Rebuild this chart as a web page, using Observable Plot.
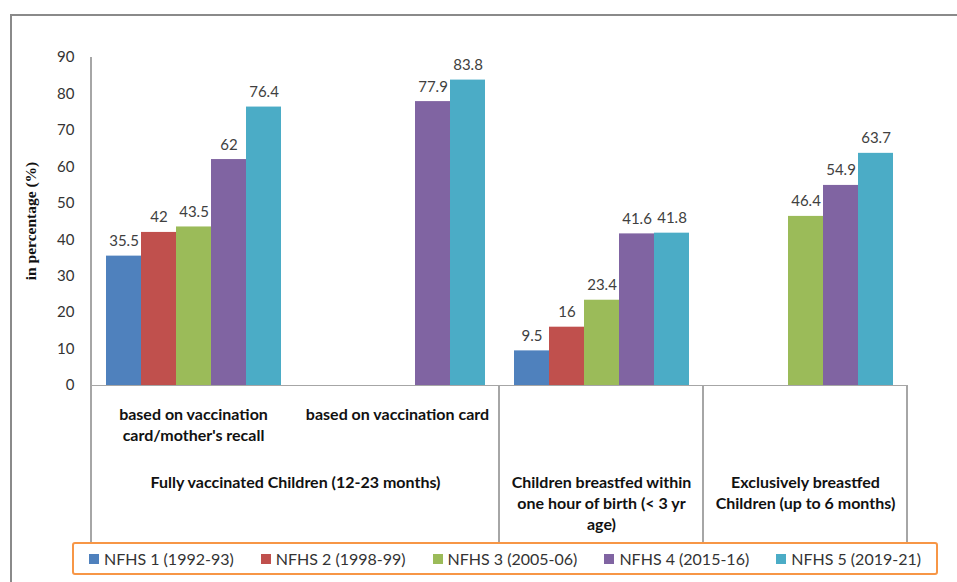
<!DOCTYPE html>
<html><head><meta charset="utf-8">
<script src="https://cdn.jsdelivr.net/npm/d3@7"></script>
<script src="https://cdn.jsdelivr.net/npm/@observablehq/plot@0.6"></script>
<style>
body{margin:0;background:#fff;width:957px;height:582px;overflow:hidden;position:relative;font-family:Lato,"Open Sans",sans-serif}
#frame{position:absolute;left:10px;top:14px;width:960px;height:600px;border-top:2px solid #8a8a8a;border-left:2px solid #8a8a8a}
#chart{position:absolute;left:0;top:0}
#legend{position:absolute;left:72px;top:542px;width:862px;height:29px;border:2.5px solid #f79646;border-radius:3px;display:flex;align-items:center;justify-content:center;gap:27px;font-size:16px;color:#333;background:#fff}
.item{display:flex;align-items:center;gap:5px}
.sw{width:10px;height:10px}
</style></head><body>
<div id="frame"></div>
<div id="chart"></div>
<div id="legend"></div>
<script>
const series = ["NFHS 1 (1992-93)", "NFHS 2 (1998-99)", "NFHS 3 (2005-06)", "NFHS 4 (2015-16)", "NFHS 5 (2019-21)"];
const colors = ["#4f81bd", "#c0504d", "#9bbb59", "#8064a2", "#4bacc6"];
const categories = ["card_recall", "card", "breastfed_hour", "exclusive"];
const subLabels = ["based on vaccination\ncard/mother's recall", "based on vaccination card", "", ""];
const groupLabelSpan = ["Fully vaccinated Children (12-23 months)"];
const groupLabels = ["", "", "Children breastfed within\none hour of birth (< 3 yr\nage)", "Exclusively breastfed\nChildren (up to 6 months)"];
const nfhs1 = [35.5, null, 9.5, null];
const nfhs2 = [42, null, 16, null];
const nfhs3 = [43.5, null, 23.4, 46.4];
const nfhs4 = [62, 77.9, 41.6, 54.9];
const nfhs5 = [76.4, 83.8, 41.8, 63.7];
const yTicks = [0, 10, 20, 30, 40, 50, 60, 70, 80, 90];
const yTitle = "in percentage (%)";

const seriesValues = [nfhs1, nfhs2, nfhs3, nfhs4, nfhs5];
const rows = [];
seriesValues.forEach((vals, si) => vals.forEach((v, ci) => {
  if (v != null) rows.push({series: series[si], category: categories[ci], value: v});
}));
const subRows = categories.map((c, i) => ({category: c, text: subLabels[i]})).filter(d => d.text);
const spanRows = [{category: categories[0], text: groupLabelSpan[0]}];
const groupRows = categories.map((c, i) => ({category: c, text: groupLabels[i]})).filter(d => d.text);

const W = 957, H = 543;
const bold = {fontWeight: "bold", fontSize: 16, lineHeight: 1.33, fill: "#111", lineAnchor: "top"};
const chart = Plot.plot({
  width: W, height: H,
  marginLeft: 89, marginRight: 49, marginTop: 57, marginBottom: 158,
  style: {fontFamily: "Lato, 'Open Sans', sans-serif", fontSize: "15px", color: "#333", background: "transparent"},
  fx: {domain: categories, padding: 0, axis: null, label: null},
  x: {domain: series, paddingInner: 0, paddingOuter: 0.38, axis: null},
  y: {domain: [0, 90], ticks: yTicks, tickSize: 0, tickPadding: 17, label: null},
  color: {domain: series, range: colors},
  marks: [
    Plot.barY(rows, {fx: "category", x: "series", y: "value", fill: "series"}),
    Plot.ruleY([0], {stroke: "#a6a6a6", strokeWidth: 1.2}),
    Plot.text(rows, {fx: "category", x: "series", y: "value", text: d => String(d.value), lineAnchor: "bottom", dy: -10, fill: "#404040", fontSize: 15}),
    Plot.text(subRows, {fx: "category", text: "text", frameAnchor: "bottom", dy: 19, ...bold}),
    Plot.text(spanRows, {fx: "category", text: "text", frameAnchor: "bottom-right", textAnchor: "middle", dy: 87, ...bold}),
    Plot.text(groupRows, {fx: "category", text: "text", frameAnchor: "bottom", dy: 87, ...bold})
  ]
});
document.getElementById("chart").appendChild(chart);

const fx = chart.scale("fx"), y = chart.scale("y");
const svg = d3.select(chart);
const g = svg.append("g").attr("stroke", "#a6a6a6").attr("stroke-width", 1.2).attr("shape-rendering", "crispEdges");
const lines = [
  {x: fx.apply(categories[0]), y1: y.apply(90)},
  {x: fx.apply(categories[2]), y1: y.apply(0)},
  {x: fx.apply(categories[3]), y1: y.apply(0)},
  {x: fx.apply(categories[3]) + fx.bandwidth, y1: y.apply(0)}
];
g.selectAll("line").data(lines).join("line")
  .attr("x1", d => d.x).attr("x2", d => d.x)
  .attr("y1", d => d.y1).attr("y2", H);
svg.append("text")
  .attr("transform", `translate(32,${(y.apply(0) + y.apply(90)) / 2}) rotate(-90)`)
  .attr("text-anchor", "middle").attr("dominant-baseline", "middle")
  .attr("font-family", "'Liberation Serif', serif").attr("font-weight", "bold").attr("font-size", 15.5)
  .attr("fill", "#111").text(yTitle);

const legend = d3.select("#legend");
series.forEach((s, i) => {
  const it = legend.append("div").attr("class", "item");
  it.append("div").attr("class", "sw").style("background", colors[i]);
  it.append("span").text(s);
});
</script>
</body></html>
